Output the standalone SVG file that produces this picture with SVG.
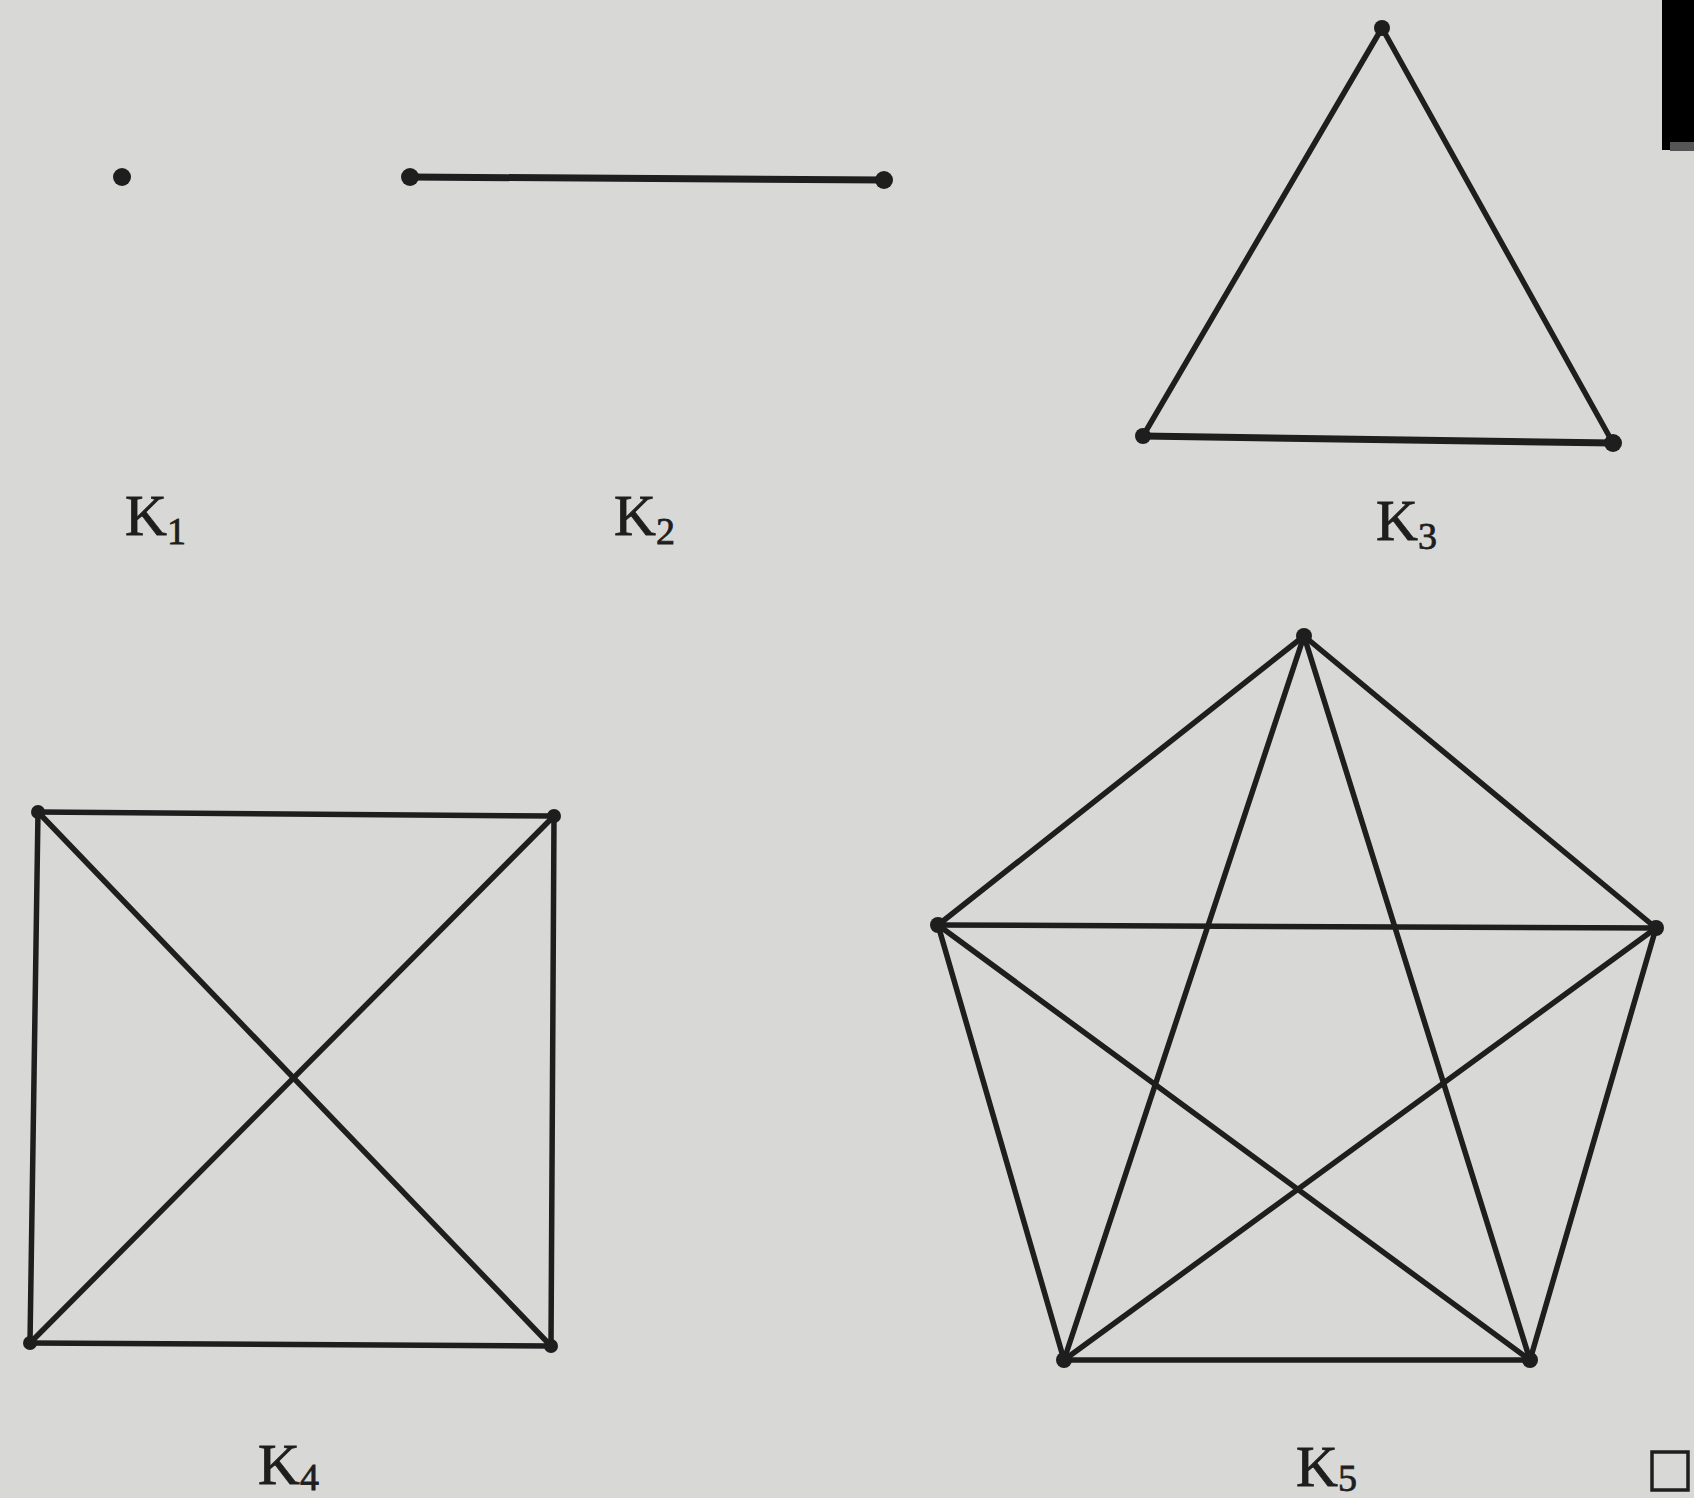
<svg xmlns="http://www.w3.org/2000/svg" width="1694" height="1498" viewBox="0 0 1694 1498">
<style>
.e{stroke:#1e1e1e;stroke-width:5.5;stroke-linecap:round;fill:none}
.v{fill:#1e1e1e}
.lbl{font-family:"Liberation Serif","Times New Roman",serif;font-size:58px;fill:#1e1e1e;stroke:#1e1e1e;stroke-width:0.8}
.sub{font-size:38px}
</style>
<rect width="1694" height="1498" fill="#d8d8d6"/>
<rect x="1662" y="0" width="32" height="150" fill="#000"/>
<rect x="1670" y="142" width="24" height="9" fill="#555"/>
<g id="connectors">
<line class="e" x1="410" y1="177" x2="884" y2="180" style="stroke-width:7"/>
<line class="e" x1="1382" y1="28" x2="1143" y2="436"/>
<line class="e" x1="1382" y1="28" x2="1613" y2="443"/>
<line class="e" x1="1143" y1="436" x2="1613" y2="443" style="stroke-width:7"/>
<line class="e" x1="38" y1="812" x2="554" y2="816"/>
<line class="e" x1="38" y1="812" x2="30" y2="1343"/>
<line class="e" x1="38" y1="812" x2="551" y2="1346"/>
<line class="e" x1="554" y1="816" x2="30" y2="1343"/>
<line class="e" x1="554" y1="816" x2="551" y2="1346"/>
<line class="e" x1="30" y1="1343" x2="551" y2="1346"/>
<line class="e" x1="1304" y1="636" x2="938" y2="925"/>
<line class="e" x1="1304" y1="636" x2="1656" y2="928"/>
<line class="e" x1="1304" y1="636" x2="1064" y2="1360"/>
<line class="e" x1="1304" y1="636" x2="1530" y2="1360"/>
<line class="e" x1="938" y1="925" x2="1656" y2="928"/>
<line class="e" x1="938" y1="925" x2="1064" y2="1360"/>
<line class="e" x1="938" y1="925" x2="1530" y2="1360"/>
<line class="e" x1="1656" y1="928" x2="1064" y2="1360"/>
<line class="e" x1="1656" y1="928" x2="1530" y2="1360"/>
<line class="e" x1="1064" y1="1360" x2="1530" y2="1360"/>
</g>
<g id="K1">
<circle class="v" cx="122" cy="177" r="9"/>
<text class="lbl" x="125" y="535">K<tspan class="sub" dy="9">1</tspan></text>
</g>
<g id="K2">
<circle class="v" cx="410" cy="177" r="9"/>
<circle class="v" cx="884" cy="180" r="9"/>
<text class="lbl" x="614" y="535">K<tspan class="sub" dy="9">2</tspan></text>
</g>
<g id="K3">
<circle class="v" cx="1382" cy="28" r="8"/>
<circle class="v" cx="1143" cy="436" r="8"/>
<circle class="v" cx="1613" cy="443" r="9"/>
<text class="lbl" x="1376" y="540">K<tspan class="sub" dy="9">3</tspan></text>
</g>
<g id="K4">
<circle class="v" cx="38" cy="812" r="7"/>
<circle class="v" cx="554" cy="816" r="7"/>
<circle class="v" cx="30" cy="1343" r="7"/>
<circle class="v" cx="551" cy="1346" r="7"/>
<text class="lbl" x="258" y="1484">K<tspan class="sub" dy="6">4</tspan></text>
</g>
<g id="K5">
<circle class="v" cx="1304" cy="636" r="8"/>
<circle class="v" cx="938" cy="925" r="8"/>
<circle class="v" cx="1656" cy="928" r="8"/>
<circle class="v" cx="1064" cy="1360" r="8"/>
<circle class="v" cx="1530" cy="1360" r="8"/>
<text class="lbl" x="1296" y="1486">K<tspan class="sub" dy="5">5</tspan></text>
</g>
<rect x="1652" y="1452" width="36" height="38" fill="none" stroke="#1e1e1e" stroke-width="3.5"/>
</svg>
